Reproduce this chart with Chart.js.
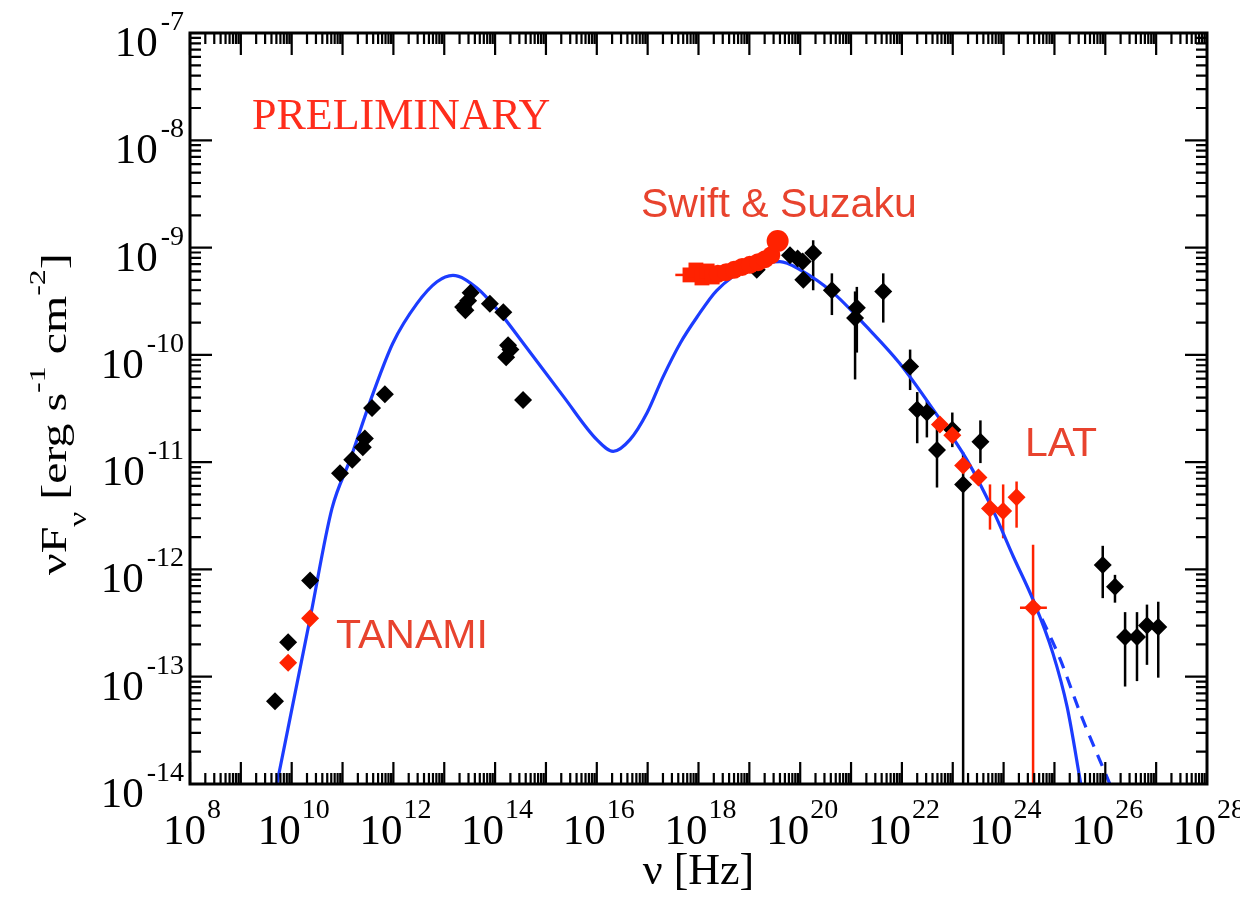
<!DOCTYPE html>
<html>
<head>
<meta charset="utf-8">
<script src="https://cdn.jsdelivr.net/npm/chart.js@4.4.0/dist/chart.umd.min.js"></script>
<style>
  html, body { margin: 0; padding: 0; background: #fff; }
  #wrap { width: 1240px; height: 904px; position: relative; }
</style>
</head>
<body>
<div id="wrap"><canvas id="sed"></canvas></div>
<script>
// axis ranges and labelled decades
const xRange = [1e8, 1e28];
const yRange = [1e-14, 1e-7];
const xTickExps = [8, 10, 12, 14, 16, 18, 20, 22, 24, 26, 28];
const yTickExps = [-7, -8, -9, -10, -11, -12, -13, -14];

// archival data (black diamonds)
const archNu = [4.7e9, 8.5e9, 2.3e10, 8.9e10, 1.55e11, 2.5e11, 2.75e11, 3.8e11, 6.8e11,
  2.35e13, 2.95e13, 3.3e13, 2.6e13, 7.9e13, 1.45e14, 1.8e14, 1.65e14, 2.0e14, 3.55e14,
  1.4e19, 6.3e19, 8.9e19, 1.12e20, 1.15e20, 1.8e20, 4.2e20, 1.3e21, 1.2e21, 4.3e21,
  1.45e22, 2.0e22, 3.1e22, 4.9e22, 9.8e22, 3.5e23, 1.6e23,
  8.9e25, 1.55e26, 2.45e26, 4.2e26, 6.6e26, 1.1e27];
const archFlux = [5.9e-14, 2.1e-13, 7.9e-13, 7.9e-12, 1.05e-11, 1.38e-11, 1.66e-11, 3.2e-11, 4.3e-11,
  2.8e-10, 3.2e-10, 3.8e-10, 2.6e-10, 3.0e-10, 2.5e-10, 1.23e-10, 9.5e-11, 1.12e-10, 3.8e-11,
  6.2e-10, 8.5e-10, 7.9e-10, 7.4e-10, 5.0e-10, 8.9e-10, 4.0e-10, 2.75e-10, 2.2e-10, 3.9e-10,
  7.8e-11, 3.1e-11, 2.9e-11, 1.3e-11, 2.0e-11, 1.55e-11, 6.2e-12,
  1.1e-12, 6.9e-13, 2.35e-13, 2.35e-13, 3.0e-13, 2.9e-13];
const archLo = [null, null, null, null, null, null, null, null, null,
  null, null, null, null, null, null, null, null, null, null,
  null, null, null, null, null, 4.0e-10, 2.35e-10, 1.05e-10, 5.9e-11, 2.0e-10,
  4.7e-11, 1.5e-11, 1.7e-11, 5.8e-12, 1.38e-11, 9.8e-12, 1e-15,
  5.4e-13, 4.9e-13, 8.1e-14, 9.1e-14, 1.29e-13, 9.8e-14];
const archHi = [null, null, null, null, null, null, null, null, null,
  null, null, null, null, null, null, null, null, null, null,
  null, null, null, null, null, 1.17e-9, 5.75e-10, 4.3e-10, 3.9e-10, 5.75e-10,
  1.12e-10, 4.5e-11, 3.8e-11, 2.15e-11, 2.9e-11, 2.45e-11, 1.23e-11,
  1.66e-12, 8.9e-13, 4.0e-13, 4.0e-13, 4.7e-13, 5.0e-13];

// TANAMI radio
const tanamiNu = [8.5e9, 2.3e10];
const tanamiFlux = [1.35e-13, 3.5e-13];

// Swift (squares) and Suzaku (circles)
const swiftNu = [6.8e17, 8.9e17, 1.17e18, 1.48e18, 1.86e18];
const swiftFlux = [5.56e-10, 6.18e-10, 5.21e-10, 6.05e-10, 5.32e-10];
const suzakuNu = [2.4e18, 3.5e18, 5.0e18, 7.2e18, 1.02e19, 1.48e19, 2.04e19, 2.7e19, 3.6e19];
const suzakuFlux = [5.7e-10, 5.9e-10, 6.2e-10, 6.6e-10, 6.9e-10, 7.3e-10, 7.8e-10, 8.5e-10, 1.15e-9];

// Fermi LAT
const latNu = [5.6e22, 9.8e22, 1.6e23, 3.2e23, 5.4e23, 9.8e23, 1.8e24, 3.8e24];
const latFlux = [2.24e-11, 1.78e-11, 9.3e-12, 7.2e-12, 3.7e-12, 3.5e-12, 4.7e-12, 4.4e-13];
const latLo = [null, null, null, null, 2.35e-12, 1.95e-12, 2.45e-12, 1e-15];
const latHi = [null, null, null, null, 6.2e-12, 6.2e-12, 6.6e-12, 1.7e-12];
const latNuLo = [null, null, null, null, null, null, null, 2.1e24];
const latNuHi = [null, null, null, null, null, null, null, 7.1e24];

// SSC model
const modelNu = [5.1e9, 2.3e10, 6.2e10, 1.4e11, 4.0e11, 9.8e11, 2.9e12, 7.2e12, 1.48e13,
  4.4e13, 1.26e14, 3.55e14, 2.2e15, 1.0e16, 2.1e16, 4.5e16, 9.8e16, 2.0e17, 4.4e17,
  9.3e17, 2.3e18, 1.0e19, 4.0e19, 1.0e20, 4.4e20, 2.04e21, 9.1e21, 4.1e22, 1.9e23,
  6.2e23, 1.55e24, 3.8e24, 9.3e24, 1.78e25, 3.3e25];
const modelFlux = [1e-14, 3.5e-13, 3.7e-12, 1.05e-11, 4.4e-11, 1.29e-10, 3.0e-10, 4.8e-10, 5.5e-10,
  4.2e-10, 2.45e-10, 1.29e-10, 4.1e-11, 1.62e-11, 1.26e-11, 1.62e-11, 2.9e-11, 6.2e-11, 1.29e-10,
  2.24e-10, 4.0e-10, 6.5e-10, 7.4e-10, 6.2e-10, 3.8e-10, 1.82e-10, 8.3e-11, 3.1e-11, 1.05e-11,
  3.55e-12, 1.32e-12, 5.2e-13, 1.66e-13, 5.2e-14, 1e-14];
// model without EBL absorption (dashed)
const modelNoEblNu = [3.8e24, 1.3e25, 3.2e25, 1.23e26];
const modelNoEblFlux = [5.2e-13, 1.45e-13, 4.6e-14, 1e-14];

const RED = '#ff2200';
const BLUE = '#1c3cff';
const NOTE = '#e8432e';

function pts(xs, ys) {
  return xs.map((x, i) => ({ x: x, y: ys[i] }));
}

// error bars under the markers
const errorBars = {
  id: 'errorBars',
  beforeDatasetsDraw(chart) {
    const { ctx, chartArea: a, scales } = chart;
    ctx.save();
    ctx.beginPath();
    ctx.rect(a.left, a.top, a.right - a.left, a.bottom - a.top);
    ctx.clip();
    chart.data.datasets.forEach(ds => {
      if (!ds.errLo && !ds.errNuLo) return;
      ctx.strokeStyle = ds.errColor;
      ctx.lineWidth = 2.5;
      ds.data.forEach((p, i) => {
        const px = scales.x.getPixelForValue(p.x);
        const py = scales.y.getPixelForValue(p.y);
        ctx.beginPath();
        if (ds.errLo && ds.errLo[i] != null) {
          ctx.moveTo(px, scales.y.getPixelForValue(ds.errLo[i]));
          ctx.lineTo(px, scales.y.getPixelForValue(ds.errHi[i]));
        }
        if (ds.errNuLo && ds.errNuLo[i] != null) {
          ctx.moveTo(scales.x.getPixelForValue(ds.errNuLo[i]), py);
          ctx.lineTo(scales.x.getPixelForValue(ds.errNuHi[i]), py);
        }
        ctx.stroke();
      });
    });
    ctx.restore();
  }
};

function drawPow(ctx, exp, x, base, align) {
  const big = '43px "Liberation Serif"';
  const small = '28px "Liberation Serif"';
  const sup = String(exp);
  ctx.font = big;
  const w1 = ctx.measureText('10').width;
  ctx.font = small;
  const w2 = ctx.measureText(sup).width;
  const gap = exp < 0 ? 3 : 1;
  const total = w1 + gap + w2;
  const x0 = align === 'center' ? x - total / 2 : x - total;
  ctx.textAlign = 'left';
  ctx.textBaseline = 'alphabetic';
  ctx.font = big;
  ctx.fillText('10', x0, base);
  ctx.font = small;
  ctx.fillText(sup, x0 + w1 + gap, base - 26);
}

// frame, inward ticks on all sides, labels and notes
const frame = {
  id: 'frame',
  afterDraw(chart) {
    const { ctx, chartArea: a, scales } = chart;
    const xs = scales.x, ys = scales.y;
    const MAJOR = 22, MINOR = 11;
    ctx.save();
    ctx.strokeStyle = '#000';
    ctx.lineWidth = 2.2;
    ctx.beginPath();
    for (let e = 8; e < 28; e++) {
      for (let m = 1; m < 10; m++) {
        const px = xs.getPixelForValue(m * Math.pow(10, e));
        const len = m === 1 ? MAJOR : MINOR;
        ctx.moveTo(px, a.bottom); ctx.lineTo(px, a.bottom - len);
        ctx.moveTo(px, a.top); ctx.lineTo(px, a.top + len);
      }
    }
    for (let e = -14; e < -7; e++) {
      for (let m = 1; m < 10; m++) {
        const py = ys.getPixelForValue(m * Math.pow(10, e));
        const len = m === 1 ? MAJOR : MINOR;
        ctx.moveTo(a.left, py); ctx.lineTo(a.left + len, py);
        ctx.moveTo(a.right, py); ctx.lineTo(a.right - len, py);
      }
    }
    ctx.stroke();
    ctx.lineWidth = 3;
    ctx.strokeRect(a.left, a.top, a.right - a.left, a.bottom - a.top);

    ctx.fillStyle = '#000';
    xTickExps.forEach(e => drawPow(ctx, e, xs.getPixelForValue(Math.pow(10, e)) + 2, a.bottom + 60, 'center'));
    yTickExps.forEach(e => drawPow(ctx, e, a.left - 6, ys.getPixelForValue(Math.pow(10, e)) + 23, 'right'));

    // x title
    ctx.font = '44px "Liberation Serif"';
    ctx.textAlign = 'center';
    ctx.fillText('\u03bd [Hz]', (a.left + a.right) / 2, 884);

    // y title, rotated
    ctx.save();
    ctx.translate(66, 575);
    ctx.rotate(-Math.PI / 2);
    ctx.scale(1.33, 1);
    ctx.textAlign = 'left';
    const parts = [
      ['\u03bd', 36, 0], ['F', 36, 0], ['\u03bd', 25, 20], [' [erg s', 36, 0],
      ['-1', 24, -21], [' cm', 36, 0], ['-2', 24, -21], [']', 36, 0]
    ];
    let cx = 0;
    parts.forEach(p => {
      ctx.font = p[1] + 'px "Liberation Serif"';
      ctx.fillText(p[0], cx, p[2]);
      cx += ctx.measureText(p[0]).width;
    });
    ctx.restore();

    // notes
    ctx.textAlign = 'left';
    ctx.fillStyle = '#ff2d1c';
    ctx.font = '44px "Liberation Serif"';
    ctx.fillText('PRELIMINARY', 252, 129);
    ctx.fillStyle = NOTE;
    ctx.font = '41px "Liberation Sans"';
    ctx.fillText('Swift & Suzaku', 641, 217);
    ctx.fillText('TANAMI', 336, 648);
    ctx.fillText('LAT', 1025, 456);
    ctx.restore();
  }
};

const config = {
  type: 'scatter',
  data: {
    datasets: [
      {
        label: 'Suzaku', data: pts(suzakuNu, suzakuFlux), pointStyle: 'circle',
        pointRadius: [9, 9, 9, 9, 9, 9, 9, 9, 11], backgroundColor: RED, borderWidth: 0
      },
      {
        label: 'Swift', data: pts(swiftNu, swiftFlux), pointStyle: 'rect',
        pointRadius: 10.5, backgroundColor: RED, borderWidth: 0,
        errNuLo: [3.5e17, null, null, null, null], errNuHi: [6.8e17, null, null, null, null], errColor: RED
      },
      {
        label: 'LAT', data: pts(latNu, latFlux), pointStyle: 'rectRot',
        pointRadius: 9, backgroundColor: RED, borderWidth: 0,
        errLo: latLo, errHi: latHi, errNuLo: latNuLo, errNuHi: latNuHi, errColor: RED
      },
      {
        label: 'TANAMI', data: pts(tanamiNu, tanamiFlux), pointStyle: 'rectRot',
        pointRadius: 9, backgroundColor: RED, borderWidth: 0
      },
      {
        label: 'Archival', data: pts(archNu, archFlux), pointStyle: 'rectRot',
        pointRadius: 9, backgroundColor: '#000', borderWidth: 0,
        errLo: archLo, errHi: archHi, errColor: '#000'
      },
      {
        label: 'Model', data: pts(modelNu, modelFlux), showLine: true, pointRadius: 0,
        borderColor: BLUE, borderWidth: 3.2, cubicInterpolationMode: 'monotone'
      },
      {
        label: 'Model (no EBL)', data: pts(modelNoEblNu, modelNoEblFlux), showLine: true, pointRadius: 0,
        borderColor: BLUE, borderWidth: 3.2, borderDash: [12, 9], cubicInterpolationMode: 'monotone'
      }
    ]
  },
  options: {
    responsive: true,
    maintainAspectRatio: false,
    animation: false,
    layout: { padding: { left: 190, top: 33, right: 33, bottom: 120 } },
    plugins: { legend: { display: false }, tooltip: { enabled: false } },
    scales: {
      x: { type: 'logarithmic', min: xRange[0], max: xRange[1], display: false },
      y: { type: 'logarithmic', min: yRange[0], max: yRange[1], display: false }
    }
  },
  plugins: [errorBars, frame]
};

new Chart(document.getElementById('sed'), config);
</script>
</body>
</html>
